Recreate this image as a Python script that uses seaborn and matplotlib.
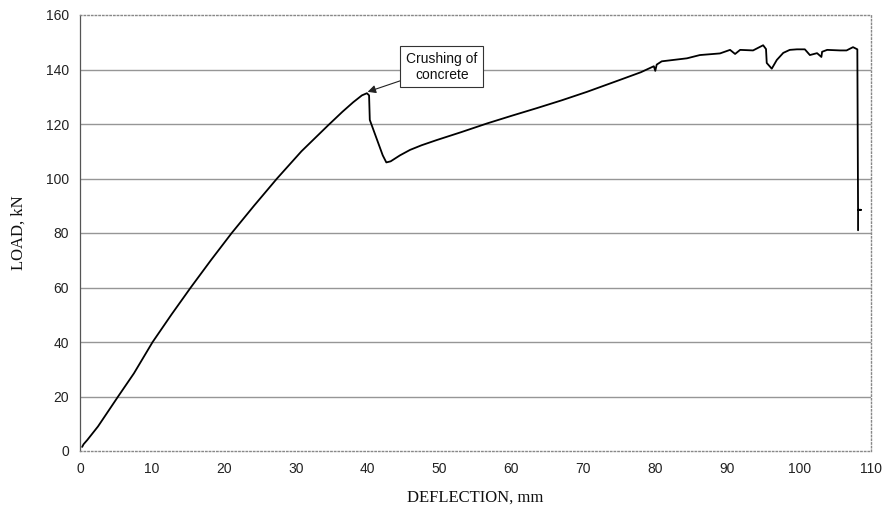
import numpy as np
import pandas as pd
import matplotlib
matplotlib.use("Agg")
import matplotlib.pyplot as plt
import seaborn as sns

# Load-deflection record of the beam test
deflection = [0.3, 0.5, 1.0, 2.5, 5.3, 7.5, 10.1, 12.7, 15.4, 18.2, 21.1, 24.2,
              27.4, 30.8, 34.5, 36.5, 38.0, 39.2, 39.9, 40.2, 40.3, 41.2, 42.1,
              42.6, 43.2, 44.5, 45.9, 47.5, 49.6, 53.0, 56.6, 60.0, 63.5, 67.0,
              70.5, 75.1, 78.0, 79.8, 80.0, 80.2, 80.9, 84.4, 86.2, 89.0, 90.4,
              91.1, 91.8, 93.6, 95.0, 95.4, 95.5, 96.2, 96.9, 97.8, 98.7, 99.7,
              100.8, 101.5, 102.5, 103.1, 103.2, 103.9, 105.7, 106.6, 107.5,
              108.1, 108.2, 108.6, 108.2, 108.2]
load = [1.5, 2.5, 4.0, 9.0, 20.0, 28.5, 40.0, 50.0, 60.0, 70.0, 80.0, 90.0,
        100.0, 110.0, 119.5, 124.5, 128.0, 130.5, 131.3, 130.5, 121.5, 115.0,
        108.5, 105.9, 106.3, 108.5, 110.5, 112.2, 114.1, 117.0, 120.2, 123.0,
        125.8, 128.7, 131.8, 136.2, 139.0, 141.2, 139.5, 141.8, 143.0, 144.1,
        145.3, 145.9, 147.2, 145.7, 147.2, 147.0, 148.9, 147.5, 142.4, 140.3,
        143.5, 146.1, 147.2, 147.4, 147.4, 145.3, 146.0, 144.6, 146.5, 147.2,
        147.0, 147.0, 148.2, 147.4, 88.5, 88.5, 88.5, 81.0]

x_ticks = list(range(0, 111, 10))
y_ticks = list(range(0, 161, 20))

annotation_text = "Crushing of\nconcrete"
annotation_point = (40.0, 131.8)
annotation_box = (50.3, 141.0)

df = pd.DataFrame({"DEFLECTION, mm": deflection, "LOAD, kN": load})

sns.set_theme(style="white")
plt.rcParams["font.family"] = ["Liberation Sans", "DejaVu Sans"]

fig = plt.figure(figsize=(8.85, 5.19), dpi=100)
ax = fig.add_axes([80 / 885, 68 / 519, 791 / 885, 436 / 519])

# horizontal gridlines
for yv in y_ticks[1:-1]:
    ax.axhline(yv, color="#969696", lw=1.0, zorder=1)

sns.lineplot(data=df, x="DEFLECTION, mm", y="LOAD, kN", sort=False,
             estimator=None, color="black", lw=1.3, ax=ax, zorder=3)

ax.set_xlim(0, 110)
ax.set_ylim(0, 160)
ax.set_xticks(x_ticks)
ax.set_yticks(y_ticks)
ax.tick_params(axis="both", labelsize=10, colors="#222222")
ax.tick_params(axis="y", direction="out", length=4, width=0.8, color="#555555", pad=4)
ax.tick_params(axis="x", direction="in", length=3, width=0.8, color="#777777", pad=8)

for side in ["top", "right", "bottom"]:
    ax.spines[side].set_color("#888888")
    ax.spines[side].set_linestyle(":")
    ax.spines[side].set_linewidth(1.0)
ax.spines["left"].set_color("#555555")
ax.spines["left"].set_linewidth(0.9)

ax.set_xlabel("DEFLECTION, mm", family="Liberation Serif", fontsize=12,
              color="#111111", labelpad=10)
ax.set_ylabel("LOAD, kN", family="Liberation Serif", fontsize=12,
              color="#111111", labelpad=14)

ax.annotate(annotation_text, xy=annotation_point, xytext=annotation_box,
            ha="center", va="center", fontsize=10, color="#111111",
            bbox=dict(boxstyle="square,pad=0.4", fc="white", ec="#333333", lw=0.8),
            arrowprops=dict(arrowstyle="-|>", color="#222222", lw=0.8,
                            mutation_scale=12, shrinkA=0, shrinkB=0),
            zorder=5)

fig.savefig("out.png", dpi=100, facecolor="white")
